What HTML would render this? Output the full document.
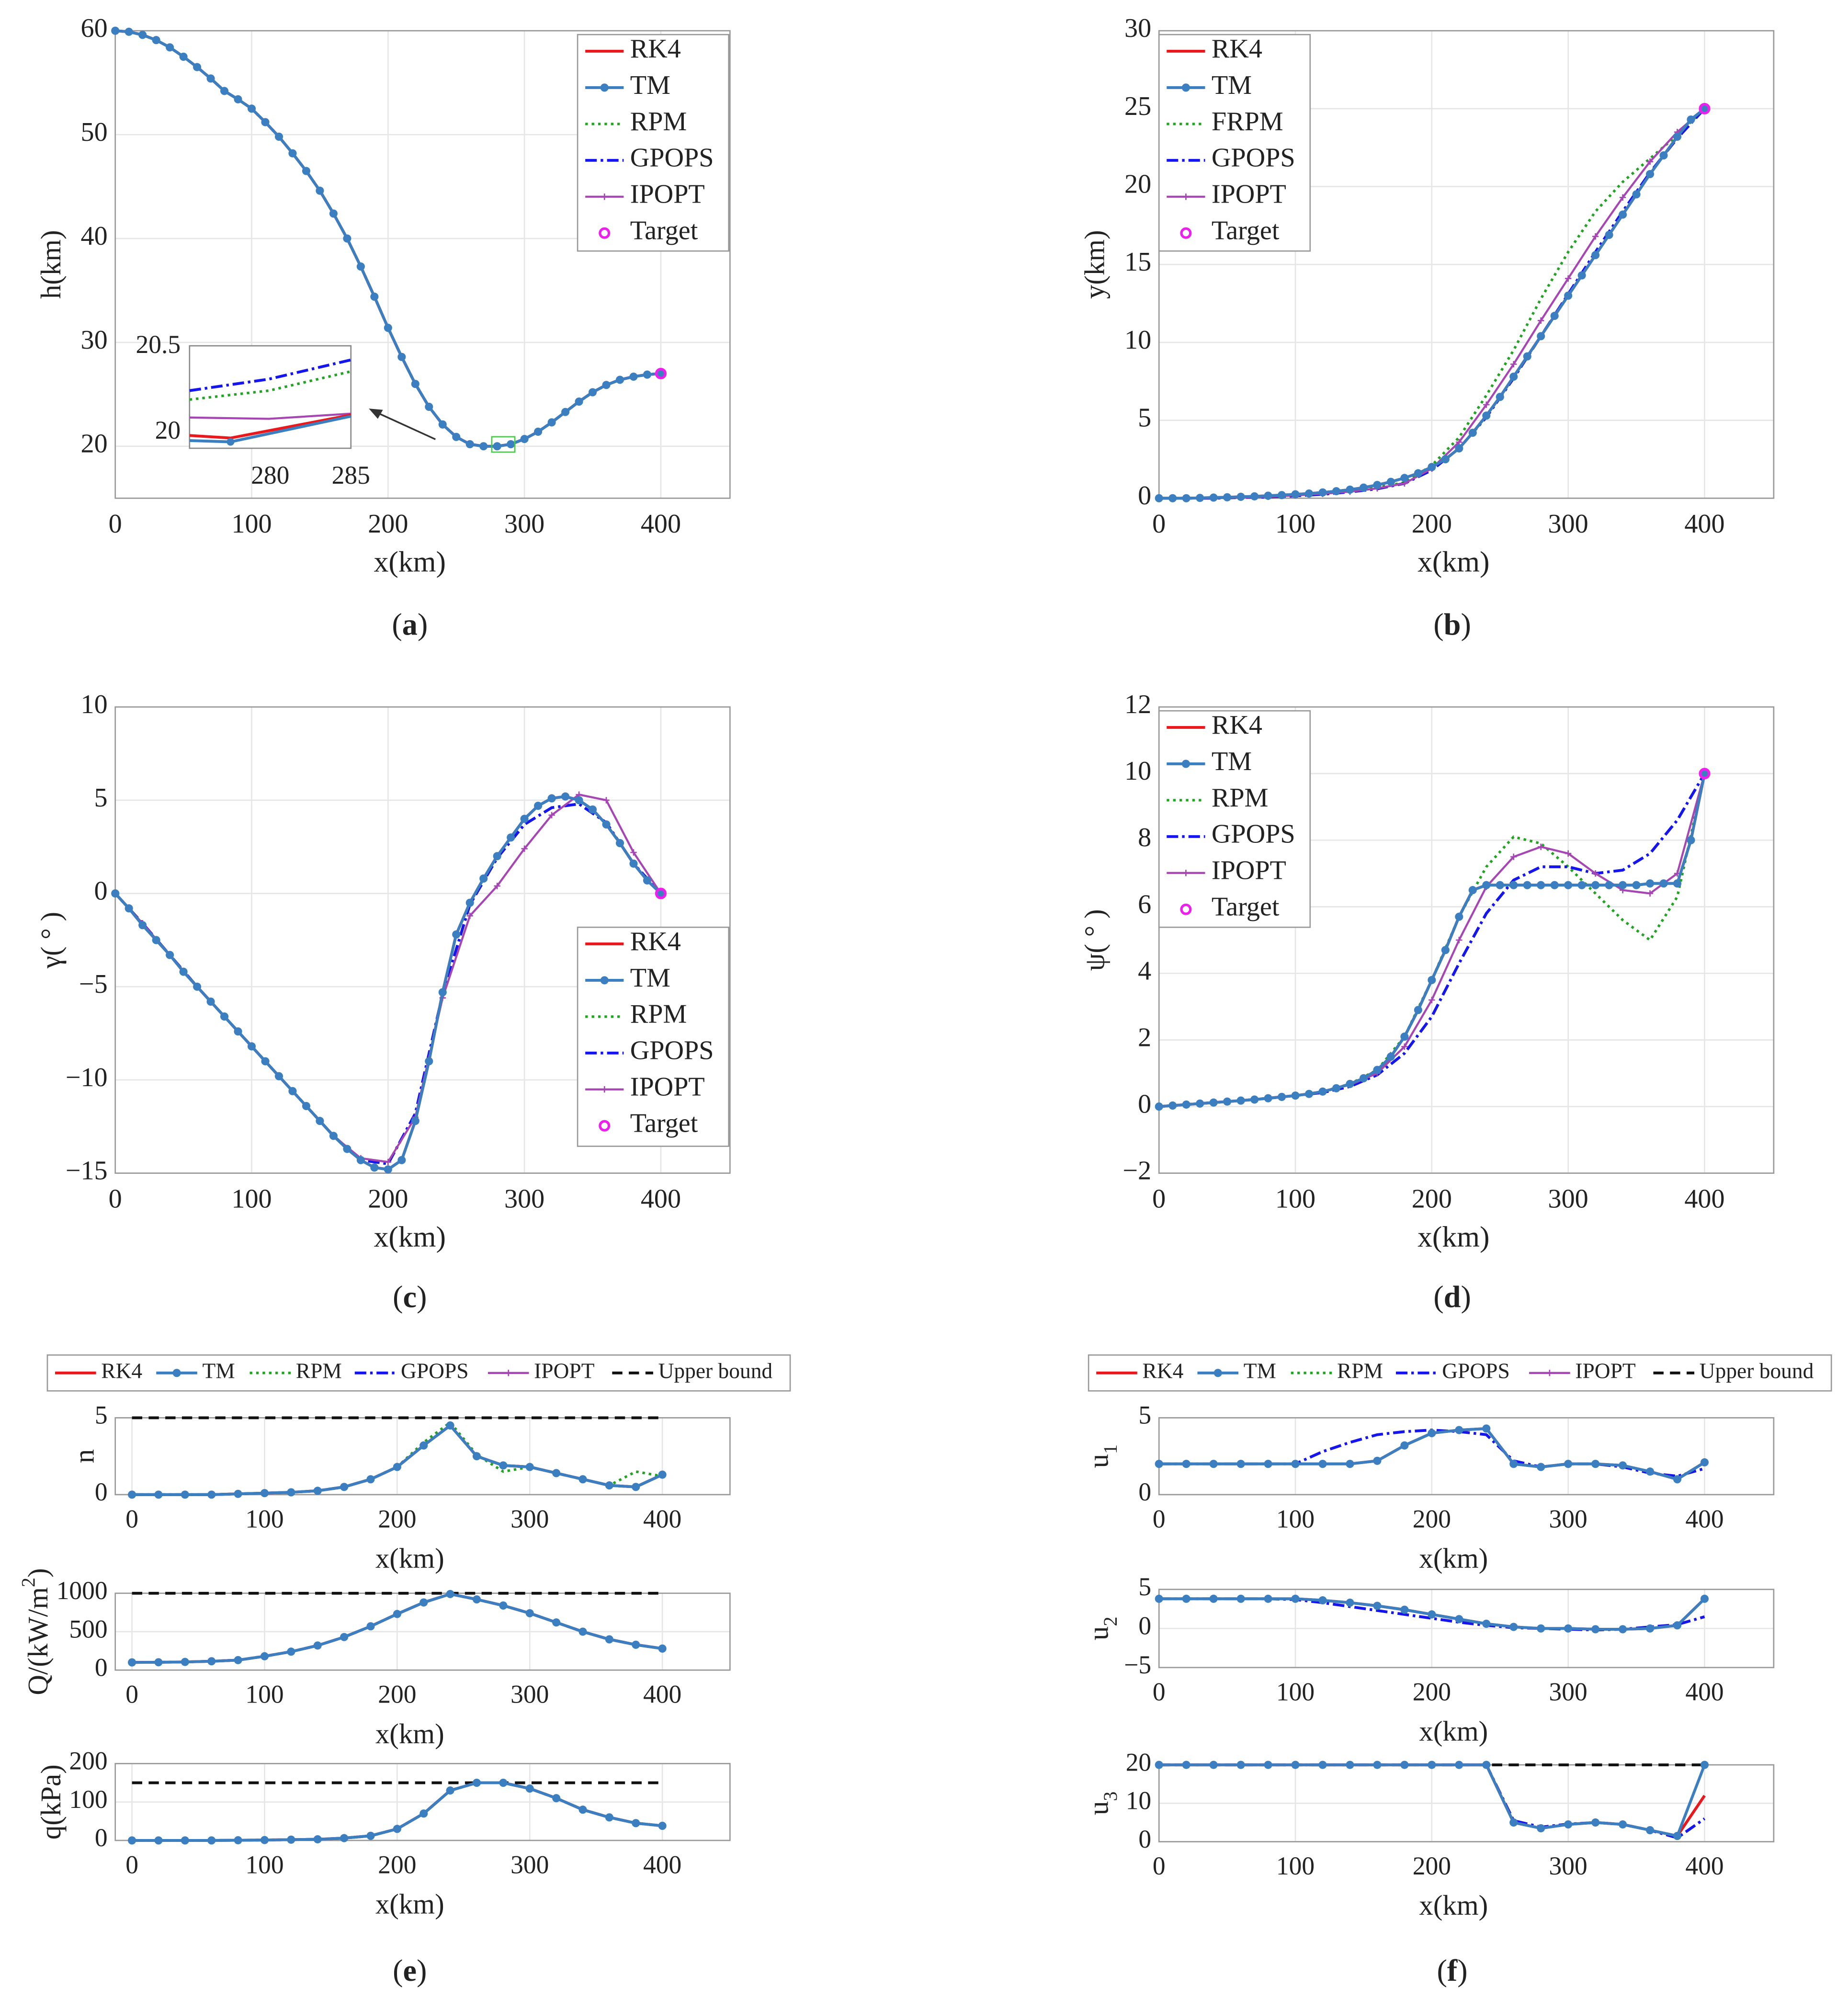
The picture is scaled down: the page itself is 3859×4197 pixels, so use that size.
<!DOCTYPE html>
<html><head><meta charset="utf-8"><style>
html,body{margin:0;padding:0;background:#fff}
svg{display:block;font-family:"Liberation Serif","Times New Roman",serif}
text{font-family:"Liberation Serif","Times New Roman",serif;fill:#222}
</style></head><body>
<svg id="fig" xmlns="http://www.w3.org/2000/svg" width="3859" height="4197" viewBox="0 0 1443 1569.4" font-family="Liberation Serif, serif"></svg>
<script>
// ---------- data ----------
const X41 = [0,10,20,30,40,50,60,70,80,90,100,110,120,130,140,150,160,170,180,190,200,210,220,230,240,250,260,270,280,290,300,310,320,330,340,350,360,370,380,390,400];
const X21 = [0,20,40,60,80,100,120,140,160,180,200,220,240,260,280,300,320,340,360,380,400];
const hTM = [60,59.9,59.6,59.1,58.4,57.5,56.5,55.4,54.2,53.4,52.5,51.2,49.8,48.2,46.5,44.6,42.4,40.0,37.3,34.4,31.4,28.6,26.0,23.8,22.1,20.9,20.2,20.0,20.0,20.2,20.7,21.4,22.3,23.3,24.3,25.2,25.9,26.4,26.7,26.9,27.0];
const yTM = [0,0,0,0.02,0.04,0.06,0.09,0.12,0.16,0.2,0.25,0.3,0.37,0.45,0.55,0.68,0.85,1.05,1.3,1.6,2.0,2.5,3.2,4.2,5.3,6.5,7.8,9.1,10.4,11.7,13.0,14.3,15.6,16.9,18.2,19.5,20.8,22.0,23.2,24.3,25];
const yRPM = [0,0,0,0.05,0.1,0.2,0.3,0.45,0.7,1.0,2.1,3.9,6.6,9.5,12.8,15.8,18.4,20.3,21.8,23.3,25];
const yGP = [0,0,0,0.04,0.08,0.15,0.25,0.4,0.6,0.95,1.8,3.2,5.2,7.7,10.4,13.1,15.8,18.4,20.9,23.1,25];
const yIP = [0,0,0,0.04,0.09,0.18,0.28,0.42,0.63,0.95,1.9,3.6,6.0,8.6,11.4,14.1,16.8,19.3,21.6,23.5,25];
const gTM = [0,-0.8,-1.7,-2.5,-3.3,-4.2,-5.0,-5.8,-6.6,-7.4,-8.2,-9.0,-9.8,-10.6,-11.4,-12.2,-13.0,-13.7,-14.3,-14.7,-14.8,-14.3,-12.2,-9.0,-5.3,-2.2,-0.5,0.8,2.0,3.0,4.0,4.7,5.1,5.2,5.0,4.5,3.7,2.7,1.6,0.7,0];
const gGP = [0,-1.6,-3.3,-5.0,-6.6,-8.2,-9.8,-11.4,-13.0,-14.3,-14.5,-11.8,-5.4,-0.6,1.9,3.7,4.6,4.8,3.8,1.6,0];
const gIP = [0,-1.6,-3.3,-5.0,-6.6,-8.2,-9.8,-11.4,-13.0,-14.2,-14.4,-12.0,-5.6,-1.2,0.4,2.4,4.2,5.3,5.0,2.2,0];
const pTM = [0,0.03,0.06,0.09,0.12,0.15,0.18,0.21,0.25,0.29,0.33,0.38,0.45,0.55,0.68,0.85,1.1,1.5,2.1,2.9,3.8,4.7,5.7,6.5,6.65,6.65,6.65,6.65,6.65,6.65,6.65,6.65,6.65,6.65,6.65,6.65,6.7,6.7,6.7,8.0,10];
const pRPM = [0,0.06,0.12,0.18,0.25,0.33,0.45,0.68,1.1,2.1,3.8,5.7,7.2,8.1,7.9,7.2,6.4,5.6,5.0,6.3,10];
const pGP = [0,0.06,0.12,0.18,0.25,0.33,0.42,0.6,0.95,1.6,2.7,4.3,5.8,6.8,7.2,7.2,7.0,7.1,7.6,8.6,10];
const pIP = [0,0.06,0.12,0.18,0.25,0.33,0.45,0.65,1.0,1.8,3.2,5.0,6.6,7.5,7.8,7.6,7.0,6.5,6.4,7.0,10];
const nTM = [0,0,0,0,0.05,0.1,0.15,0.25,0.5,1.0,1.8,3.2,4.5,2.5,1.9,1.8,1.4,1.0,0.6,0.5,1.3];
const nRPM = [0,0,0,0,0.05,0.1,0.15,0.25,0.5,1.0,1.8,3.4,4.7,2.6,1.5,1.8,1.4,1.0,0.6,1.5,1.2];
const QTM = [100,102,106,115,130,180,240,320,430,570,730,880,990,920,840,740,620,500,400,330,280];
const qTM = [0,0,0,0,0.5,1,2,3,6,12,30,70,130,150,150,135,110,80,60,45,38];
const u1TM = [2,2,2,2,2,2,2,2,2.2,3.2,4.0,4.2,4.3,2.0,1.8,2.0,2.0,1.9,1.5,1.0,2.1];
const u1GP = [2,2,2,2,2,2,2.8,3.4,3.9,4.1,4.2,4.1,3.9,2.2,1.8,2.0,2.0,1.8,1.4,1.2,1.7];
const u2TM = [3.8,3.8,3.8,3.8,3.8,3.8,3.6,3.3,2.9,2.4,1.8,1.2,0.6,0.2,0,0,-0.1,-0.1,0,0.4,3.8];
const u2GP = [3.8,3.8,3.8,3.8,3.8,3.7,3.3,2.8,2.3,1.8,1.3,0.8,0.4,0.1,0,-0.1,-0.2,-0.1,0.2,0.5,1.5];
const u3TM = [20,20,20,20,20,20,20,20,20,20,20,20,20,5,3.5,4.5,5,4.5,3,1.5,20];
const u3RK = [20,20,20,20,20,20,20,20,20,20,20,20,20,5,3.5,4.5,5,4.5,3,1.5,12];
const u3GP = [20,20,20,20,20,20,20,20,20,20,20,20,20,5.5,3.8,4.6,5,4.5,3,1.0,6];

// ---------- helpers ----------
const NS="http://www.w3.org/2000/svg", svg=document.getElementById('fig');
const FF='Liberation Serif, Times New Roman, serif';
function el(tag,attrs,parent){const e=document.createElementNS(NS,tag);for(const k in attrs)e.setAttribute(k,attrs[k]);(parent||svg).appendChild(e);return e;}
function txt(s,x,y,size,anchor,parent,extra){const t=el('text',Object.assign({x:x,y:y,'font-size':size,'font-family':FF,'text-anchor':anchor||'middle','dominant-baseline':'middle'},extra||{}),parent);t.textContent=s;return t;}
const C={RK4:'#e8191c',TM:'#3b7fc0',RPM:'#23a323',GP:'#1515ee',IP:'#a646b3',T:'#ee1fee'};
function makeAxes(name,P){
  const g=el('g',{});
  
  
  P.g=g;
  P.sx=v=>P.x0+(v-P.xmin)/(P.xmax-P.xmin)*(P.x1-P.x0);
  P.sy=v=>P.y1-(v-P.ymin)/(P.ymax-P.ymin)*(P.y1-P.y0);
  const bg=el('rect',{x:P.x0,y:P.y0,width:P.x1-P.x0,height:P.y1-P.y0,fill:'#fff'},g);
  
  
  P.xt.forEach(v=>{const l=el('line',{x1:P.sx(v),x2:P.sx(v),y1:P.y0,y2:P.y1,stroke:'#e6e6e6','stroke-width':1},g);
    
    
    const t=txt(String(v),P.sx(v),P.y1+P.xtOff,P.fs,'middle',g);
    
    });
  P.yt.forEach(v=>{const l=el('line',{x1:P.x0,x2:P.x1,y1:P.sy(v),y2:P.sy(v),stroke:'#e6e6e6','stroke-width':1},g);
    
    
    const t=txt(String(v).replace('-','\u2212'),P.x0-6,P.sy(v),P.fs,'end',g);
    
    });
  const fr=el('rect',{x:P.x0,y:P.y0,width:P.x1-P.x0,height:P.y1-P.y0,fill:'none',stroke:'#999','stroke-width':1},g);
  
  
  const xl=txt('x(km)',(P.x0+P.x1)/2-10,P.y1+P.xlOff,P.fs+2,'middle',g);
  
  
  return P;
}
function series(P,name,xs,ys,color,style){
  const pts=xs.map((x,i)=>P.sx(x).toFixed(2)+','+P.sy(ys[i]).toFixed(2)).join(' ');
  const a={points:pts,fill:'none',stroke:color,'stroke-width':style.w||2};
  if(style.dash)a['stroke-dasharray']=style.dash;
  const pl=el('polyline',a,P.g);
  
  
  if(style.dot){xs.forEach((x,i)=>{const c=el('circle',{cx:P.sx(x),cy:P.sy(ys[i]),r:style.dot,fill:color},P.g);
    
    });}
  if(style.plus){xs.forEach((x,i)=>{const p=el('path',{d:`M${P.sx(x)-2.5},${P.sy(ys[i])}h5M${P.sx(x)},${P.sy(ys[i])-2.5}v5`,stroke:color,'stroke-width':1},P.g);
    
    });}
}
function target(P,x,y){const c=el('circle',{cx:P.sx(x),cy:P.sy(y),r:3.5,fill:'none',stroke:C.T,'stroke-width':2},P.g);
  
  }
const ST={RK4:{w:2.2},TM:{w:2.2,dot:3.2},RPM:{w:2,dash:'2,3'},GP:{w:2.2,dash:'9,3,2,3'},IP:{w:1.6,plus:1},UB:{w:2.2,dash:'8,5'}};
function vLegend(P,x,y,h,labels){
  const g=el('g',{},P.g);
  
  
  el('rect',{x:x,y:y,width:118,height:h,fill:'#fff',stroke:'#999','stroke-width':1},g);
  const keys=['RK4','TM','RPM','GP','IP','T'];
  labels.forEach((lab,i)=>{const yy=y+13+i*28.4, k=keys[i];
    if(k==='T'){const c=el('circle',{cx:x+21,cy:yy,r:3.5,fill:'none',stroke:C.T,'stroke-width':2},g);
      
      }
    else{const a={x1:x+6,x2:x+36,y1:yy,y2:yy,stroke:C[k],'stroke-width':ST[k].w};if(ST[k].dash)a['stroke-dasharray']=ST[k].dash;
      const l=el('line',a,g);
      
      
      if(k==='TM')el('circle',{cx:x+21,cy:yy,r:3.2,fill:C.TM},g);
      if(k==='IP')el('path',{d:`M${x+18.5},${yy}h5M${x+21},${yy-2.5}v5`,stroke:C.IP},g);}
    const t=txt(lab,x+41,yy,21,'start',g);
    
    });
}
function hLegend(ox){
  const g=el('g',{});
  
  
  el('rect',{x:ox,y:1058,width:580,height:28,fill:'#fff',stroke:'#999','stroke-width':1},g);
  const items=[['RK4','RK4',6],['TM','TM',85],['RPM','RPM',158],['GP','GPOPS',240],['IP','IPOPT',344],['UB','Upper bound',441]];
  items.forEach(([k,lab,dx])=>{const a={x1:ox+dx,x2:ox+dx+32,y1:1072,y2:1072,stroke:k==='UB'?'#111':C[k],'stroke-width':ST[k].w};if(ST[k].dash)a['stroke-dasharray']=ST[k].dash;
    const l=el('line',a,g);
    
    
    if(k==='TM')el('circle',{cx:ox+dx+16,cy:1072,r:3.2,fill:C.TM},g);
    if(k==='IP')el('path',{d:`M${ox+dx+13.5},1072h5M${ox+dx+16},1069.5v5`,stroke:C.IP},g);
    const t=txt(lab,ox+dx+36,1072,17,'start',g);
    
    });
}
function ylab(P,s,x,name){const t=el('text',{x:0,y:0,'font-size':22,'font-family':FF,'text-anchor':'middle','dominant-baseline':'middle',transform:`translate(${x},${(P.y0+P.y1)/2}) rotate(-90)`},P.g);
  t.innerHTML=s;
  
  }
function caption(s,x,y){const t=el('text',{x:x,y:y,'font-size':24,'font-family':FF,'text-anchor':'middle','dominant-baseline':'middle'});
  t.innerHTML='(<tspan font-weight="bold">'+s+'</tspan>)';
  
  }
const X=[0,100,200,300,400];

// ---------- panel a ----------
const A=makeAxes('panel-a-altitude',{x0:90,x1:570,y0:24,y1:389,xmin:0,xmax:450.7,ymin:15,ymax:60,xt:X,yt:[20,30,40,50,60],fs:21,xtOff:22,xlOff:52});
ylab(A,'h(km)',42,'y-axis-title');
series(A,'ipopt-line',X41,hTM,C.IP,ST.IP);
series(A,'rpm-line',X41,hTM,C.RPM,ST.RPM);
series(A,'gpops-line',X41,hTM,C.GP,ST.GP);
series(A,'rk4-line',X41,hTM,C.RK4,ST.RK4);
series(A,'tm-line',X41,hTM,C.TM,ST.TM);
target(A,400,27);
vLegend(A,451,27,169,['RK4','TM','RPM','GPOPS','IPOPT','Target']);
(function(){const g=el('g',{});
  
  
  el('rect',{x:148,y:270,width:126,height:80,fill:'#fff',stroke:'#888'},g);
  el('polyline',{points:'148,305 210,296 274,281',fill:'none',stroke:C.GP,'stroke-width':2.2,'stroke-dasharray':'9,3,2,3'},g);
  el('polyline',{points:'148,312 210,305 274,290',fill:'none',stroke:C.RPM,'stroke-width':2,'stroke-dasharray':'2,3'},g);
  el('polyline',{points:'148,326 210,327 274,323',fill:'none',stroke:C.IP,'stroke-width':1.6},g);
  el('polyline',{points:'148,340 180,342 274,324',fill:'none',stroke:C.RK4,'stroke-width':2.2},g);
  el('polyline',{points:'148,344 180,345 274,325',fill:'none',stroke:C.TM,'stroke-width':2.2},g);
  el('circle',{cx:180,cy:345,r:3,fill:C.TM},g);
  txt('20.5',141,271,20,'end',g);txt('20',141,338,20,'end',g);
  txt('280',211,373,20,'middle',g);txt('285',274,373,20,'middle',g);
  el('line',{x1:340,y1:343,x2:294,y2:322,stroke:'#333','stroke-width':1.3},g);
  el('path',{d:'M288,319 L299,320 L295,327 Z',fill:'#333'},g);
  el('rect',{x:384,y:341,width:18,height:12,fill:'none',stroke:'#4c4','stroke-width':1},g);})();
caption('a',320,490);

// ---------- panel b ----------
const B=makeAxes('panel-b-crossrange',{x0:905,x1:1385,y0:24,y1:389,xmin:0,xmax:450.7,ymin:0,ymax:30,xt:X,yt:[0,5,10,15,20,25,30],fs:21,xtOff:22,xlOff:52});
ylab(B,'y(km)',857,'y-axis-title');
series(B,'rpm-line',X21,yRPM,C.RPM,ST.RPM);
series(B,'gpops-line',X21,yGP,C.GP,ST.GP);
series(B,'ipopt-line',X21,yIP,C.IP,ST.IP);
series(B,'rk4-line',X41,yTM,C.RK4,ST.RK4);
series(B,'tm-line',X41,yTM,C.TM,ST.TM);
target(B,400,25);
vLegend(B,905,27,169,['RK4','TM','FRPM','GPOPS','IPOPT','Target']);
caption('b',1134,490);

// ---------- panel c ----------
const Cc=makeAxes('panel-c-flight-path-angle',{x0:90,x1:570,y0:552,y1:916,xmin:0,xmax:450.7,ymin:-15,ymax:10,xt:X,yt:[-15,-10,-5,0,5,10],fs:21,xtOff:22,xlOff:52});
ylab(Cc,'γ( ° )',42,'y-axis-title');
series(Cc,'rpm-line',X41,gTM,C.RPM,ST.RPM);
series(Cc,'gpops-line',X21,gGP,C.GP,ST.GP);
series(Cc,'ipopt-line',X21,gIP,C.IP,ST.IP);
series(Cc,'rk4-line',X41,gTM,C.RK4,ST.RK4);
series(Cc,'tm-line',X41,gTM,C.TM,ST.TM);
target(Cc,400,0);
vLegend(Cc,451,724,171,['RK4','TM','RPM','GPOPS','IPOPT','Target']);
caption('c',320,1015);

// ---------- panel d ----------
const D=makeAxes('panel-d-heading-angle',{x0:905,x1:1385,y0:552,y1:916,xmin:0,xmax:450.7,ymin:-2,ymax:12,xt:X,yt:[-2,0,2,4,6,8,10,12],fs:21,xtOff:22,xlOff:52});
ylab(D,'ψ( ° )',857,'y-axis-title');
series(D,'rpm-line',X21,pRPM,C.RPM,ST.RPM);
series(D,'gpops-line',X21,pGP,C.GP,ST.GP);
series(D,'ipopt-line',X21,pIP,C.IP,ST.IP);
series(D,'rk4-line',X41,pTM,C.RK4,ST.RK4);
series(D,'tm-line',X41,pTM,C.TM,ST.TM);
target(D,400,10);
vLegend(D,905,555,169,['RK4','TM','RPM','GPOPS','IPOPT','Target']);
caption('d',1134,1015);

// ---------- panel e ----------
hLegend(37);
function small(name,x0,y0,y1,ymin,ymax,yt,xmin,xmax){return makeAxes(name,{x0:x0,x1:x0+480,y0:y0,y1:y1,xmin:xmin,xmax:xmax,ymin:ymin,ymax:ymax,xt:X,yt:yt,fs:20,xtOff:21,xlOff:52});}
function ub(P,v){series(P,'upper-bound-line',[0,400],[v,v],'#111',ST.UB);}
const E1=small('panel-e-load-factor',90,1107,1167,0,5,[0,5],-12.6,451);
ylab(E1,'n',68,'y-axis-title');ub(E1,5);
series(E1,'rpm-line',X21,nRPM,C.RPM,ST.RPM);series(E1,'gpops-line',X21,nTM,C.GP,ST.GP);series(E1,'ipopt-line',X21,nTM,C.IP,ST.IP);
series(E1,'rk4-line',X21,nTM,C.RK4,ST.RK4);series(E1,'tm-line',X21,nTM,C.TM,ST.TM);
const E2=small('panel-e-heat-flux',90,1244,1304,0,1000,[0,500,1000],-12.6,451);
ylab(E2,'Q/(kW/m<tspan baseline-shift="super" font-size="15">2</tspan>)',32,'y-axis-title');ub(E2,1000);
series(E2,'gpops-line',X21,QTM,C.GP,ST.GP);series(E2,'ipopt-line',X21,QTM,C.IP,ST.IP);
series(E2,'rk4-line',X21,QTM,C.RK4,ST.RK4);series(E2,'tm-line',X21,QTM,C.TM,ST.TM);
const E3=small('panel-e-dynamic-pressure',90,1377,1437,0,200,[0,100,200],-12.6,451);
ylab(E3,'q(kPa)',42,'y-axis-title');ub(E3,150);
series(E3,'gpops-line',X21,qTM,C.GP,ST.GP);series(E3,'ipopt-line',X21,qTM,C.IP,ST.IP);
series(E3,'rk4-line',X21,qTM,C.RK4,ST.RK4);series(E3,'tm-line',X21,qTM,C.TM,ST.TM);
caption('e',320,1541);

// ---------- panel f ----------
hLegend(850);
const F1=small('panel-f-control-u1',905,1107,1167,0,5,[0,5],0,450.7);
ylab(F1,'u<tspan baseline-shift="sub" font-size="15">1</tspan>',860,'y-axis-title');
series(F1,'rpm-line',X21,u1TM,C.RPM,ST.RPM);series(F1,'gpops-line',X21,u1GP,C.GP,ST.GP);series(F1,'ipopt-line',X21,u1TM,C.IP,ST.IP);
series(F1,'rk4-line',X21,u1TM,C.RK4,ST.RK4);series(F1,'tm-line',X21,u1TM,C.TM,ST.TM);
const F2=small('panel-f-control-u2',905,1241,1302,-5,5,[-5,0,5],0,450.7);
ylab(F2,'u<tspan baseline-shift="sub" font-size="15">2</tspan>',860,'y-axis-title');
series(F2,'rpm-line',X21,u2TM,C.RPM,ST.RPM);series(F2,'gpops-line',X21,u2GP,C.GP,ST.GP);series(F2,'ipopt-line',X21,u2TM,C.IP,ST.IP);
series(F2,'rk4-line',X21,u2TM,C.RK4,ST.RK4);series(F2,'tm-line',X21,u2TM,C.TM,ST.TM);
const F3=small('panel-f-control-u3',905,1378,1438,0,20,[0,10,20],0,450.7);
ylab(F3,'u<tspan baseline-shift="sub" font-size="15">3</tspan>',860,'y-axis-title');ub(F3,20);
series(F3,'rpm-line',X21,u3TM,C.RPM,ST.RPM);series(F3,'gpops-line',X21,u3GP,C.GP,ST.GP);series(F3,'ipopt-line',X21,u3TM,C.IP,ST.IP);
series(F3,'rk4-line',X21,u3RK,C.RK4,ST.RK4);series(F3,'tm-line',X21,u3TM,C.TM,ST.TM);
caption('f',1134,1541);
</script>
</body></html>
